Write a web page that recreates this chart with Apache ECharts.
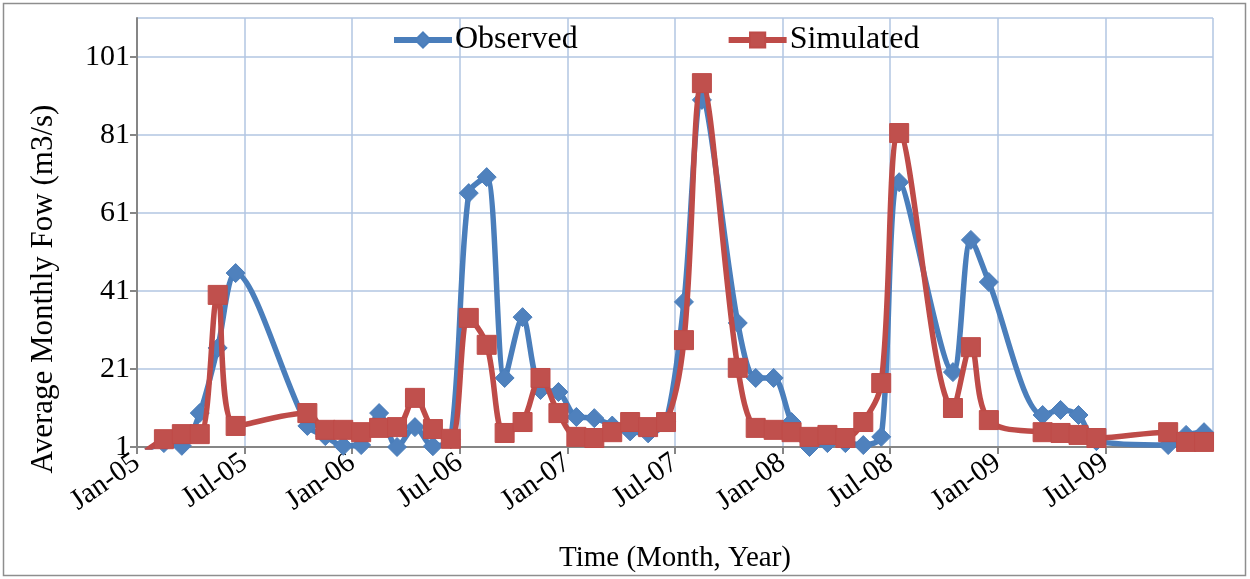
<!DOCTYPE html>
<html>
<head>
<meta charset="utf-8">
<script src="https://cdn.jsdelivr.net/npm/echarts@6/dist/echarts.min.js"></script>
<style>
  html, body { margin: 0; padding: 0; background: #ffffff; }
  #chart { width: 1250px; height: 579px; }
</style>
</head>
<body>
<div id="chart"></div>
<script>
// Sampled months (gaps are months with no record)
const months = [
  '2005-01', '2005-02', '2005-03', '2005-04', '2005-05', '2005-06',
  '2005-10', '2005-11', '2005-12',
  '2006-01', '2006-02', '2006-03', '2006-04', '2006-05', '2006-06',
  '2006-07', '2006-08', '2006-09', '2006-10', '2006-11', '2006-12',
  '2007-01', '2007-02', '2007-03', '2007-04', '2007-05', '2007-06',
  '2007-07', '2007-08',
  '2007-10', '2007-11', '2007-12',
  '2008-01', '2008-02', '2008-03', '2008-04', '2008-05', '2008-06', '2008-07',
  '2008-10', '2008-11', '2008-12',
  '2009-03', '2009-04', '2009-05', '2009-06',
  '2009-10', '2009-11', '2009-12'
];

// Average monthly flow, m3/s
const observed = [
  0, 2.0, 1.3, 9.7, 26.4, 45.6,
  6.4, 3.8, 1.3,
  1.5, 9.7, 1.0, 6.1, 1.2, 3.0,
  66.1, 70.2, 18.7, 34.3, 15.6, 15.1,
  8.7, 8.4, 6.5, 5.0, 4.5, 7.5,
  38.2, 90.0,
  32.8, 18.7, 18.7,
  7.4, 1.0, 2.0, 2.0, 1.5, 3.6, 68.9,
  20.2, 54.1, 43.3,
  9.2, 10.5, 9.2, 2.5,
  1.5, 4.1, 4.8
];

const simulated = [
  0, 3.0, 4.3, 4.3, 40.0, 6.4,
  9.7, 5.4, 5.4,
  4.8, 5.9, 6.1, 13.6, 5.6, 3.1,
  34.1, 27.2, 4.6, 7.4, 18.7, 9.7,
  3.6, 3.3, 4.8, 7.4, 6.1, 7.4,
  28.4, 94.3,
  21.3, 5.9, 5.4,
  4.8, 3.6, 4.1, 3.3, 7.4, 17.4, 81.5,
  11.0, 26.6, 7.9,
  4.8, 4.6, 4.1, 3.3,
  4.8, 2.3, 2.3
];

const monthNames = ['Jan', 'Feb', 'Mar', 'Apr', 'May', 'Jun',
                    'Jul', 'Aug', 'Sep', 'Oct', 'Nov', 'Dec'];
const startYear = 2005;

// Months since Jan 2005, placed at mid-month
function monthPos(ym) {
  const [y, m] = ym.split('-').map(Number);
  return (y - startYear) * 12 + (m - 1) + 0.5;
}
function tickLabel(v) {
  const y = startYear + Math.floor(v / 12);
  const m = Math.round(v % 12);
  return monthNames[m] + '-' + String(y % 100).padStart(2, '0');
}

const obsData = months.map((ym, i) => [monthPos(ym), observed[i]]);
const simData = months.map((ym, i) => [monthPos(ym), simulated[i]]);

const serif = '"Liberation Serif", "Times New Roman", serif';
const gridColor = '#b2c6e2';

const chart = echarts.init(document.getElementById('chart'), null, { renderer: 'canvas' });
chart.setOption({
  backgroundColor: '#ffffff',
  animation: false,
  textStyle: { fontFamily: serif, color: '#000' },
  graphic: [
    {
      type: 'rect',
      shape: { x: 3.5, y: 3.5, width: 1242, height: 572 },
      style: { fill: 'none', stroke: '#8e8e8e', lineWidth: 1.5 },
      silent: true
    },
    {
      // y-axis title
      type: 'text',
      x: 44,
      y: 289,
      rotation: Math.PI / 2,
      style: {
        text: 'Average Monthly Fow (m3/s)',
        font: '31px ' + serif,
        fill: '#000',
        align: 'center',
        verticalAlign: 'middle'
      },
      silent: true
    }
  ],
  legend: {
    top: 19,
    left: 386,
    itemWidth: 58,
    itemHeight: 19,
    itemGap: 148,
    lineStyle: { width: 6 },
    textStyle: { fontFamily: serif, fontSize: 32, color: '#000', padding: [0, 0, 0, -2] },
    data: ['Observed', 'Simulated']
  },
  grid: { left: 137, right: 37, top: 18, bottom: 132, containLabel: false },
  xAxis: {
    type: 'value',
    min: 0,
    max: 60,
    interval: 6,
    name: 'Time (Month, Year)',
    nameLocation: 'middle',
    nameGap: 97,
    nameTextStyle: { fontFamily: serif, fontSize: 29, color: '#000' },
    axisLine: { lineStyle: { color: '#868686', width: 2 } },
    axisTick: { show: true, length: 7, lineStyle: { color: '#868686', width: 2 } },
    axisLabel: {
      rotate: 35,
      fontFamily: serif,
      fontSize: 29,
      color: '#000',
      margin: 13,
      showMaxLabel: false,
      formatter: tickLabel
    },
    splitLine: { show: true, lineStyle: { color: gridColor, width: 1.5 } }
  },
  yAxis: {
    type: 'value',
    min: 1,
    max: 111,
    interval: 20,
    axisLine: { show: true, lineStyle: { color: '#868686', width: 2 } },
    axisTick: { show: true, length: 7, lineStyle: { color: '#868686', width: 2 } },
    axisLabel: {
      fontFamily: serif,
      fontSize: 30,
      color: '#000',
      margin: 7,
      showMaxLabel: false
    },
    splitLine: { show: true, lineStyle: { color: gridColor, width: 1.5 } }
  },
  series: [
    {
      name: 'Observed',
      type: 'line',
      data: obsData,
      smooth: 0.3,
      clip: true,
      symbol: 'diamond',
      symbolSize: 19,
      lineStyle: { color: '#4a7ebb', width: 5.5 },
      itemStyle: { color: '#4f81bd', borderColor: '#4a7ebb', borderWidth: 1 },
      z: 2
    },
    {
      name: 'Simulated',
      type: 'line',
      data: simData,
      smooth: 0.35,
      clip: true,
      symbol: 'rect',
      symbolSize: 19,
      lineStyle: { color: '#be4b48', width: 5.5 },
      itemStyle: { color: '#c0504d', borderColor: '#be4b48', borderWidth: 1 },
      z: 3
    }
  ]
});
</script>
</body>
</html>
